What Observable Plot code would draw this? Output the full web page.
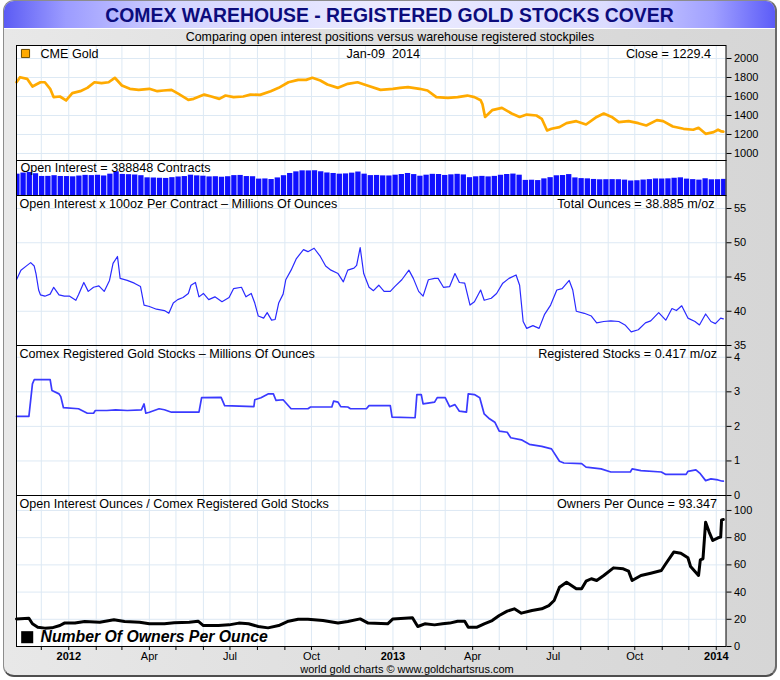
<!DOCTYPE html>
<html><head><meta charset="utf-8">
<script src="https://cdn.jsdelivr.net/npm/d3@7"></script>
<script src="https://cdn.jsdelivr.net/npm/@observablehq/plot@0.6"></script>
<style>
body{margin:0;background:#fff;font-family:"Liberation Sans",Arial,sans-serif}
#wrap{position:relative;width:780px;height:680px;overflow:hidden}
#frame{position:absolute;left:3px;top:0;width:774px;height:677px;box-sizing:border-box;border-radius:11px;
 background:linear-gradient(to right,#e8e8e8,#dcdcdc 60%,#d6d6d6);border:1px solid #8c8c8c;border-bottom:2px solid #4e4e4e;border-right:2px solid #6a6a6a;overflow:hidden}
#title{position:absolute;left:0;top:0;right:0;height:27px;border-bottom:1px solid #fff;
 background:linear-gradient(to right,#5c5cf4 0%,#9c9cff 8%,#d4d4ff 22%,#ececff 50%,#dcdcff 78%,#a0a0ff 92%,#5c5cf8 100%);
 color:#0c0c7c;font-weight:bold;font-size:19.4px;line-height:29px;text-align:center}
#sub{position:absolute;left:0;width:780px;top:30px;line-height:14px;font-size:12.4px;text-align:center;color:#000}
#foot{position:absolute;left:0;width:814px;top:662px;line-height:14px;font-size:11px;text-align:center;color:#000}
.panel{position:absolute;left:0}
</style></head>
<body>
<div id="wrap">
 <div id="frame"><div id="title">COMEX WAREHOUSE - REGISTERED GOLD STOCKS COVER</div></div>
 <div id="sub">Comparing open interest positions versus warehouse registered stockpiles</div>
 <div id="foot">world gold charts © www.goldchartsrus.com</div>
</div>
<script>
// ---------- data ----------
const goldSeries = [
["2011-11-03",1750],["2011-11-07",1803],["2011-11-15",1786],["2011-11-21",1705],["2011-11-30",1750],["2011-12-05",1750],["2011-12-11",1681],["2011-12-15",1593],["2011-12-22",1600],["2011-12-29",1558],
["2012-01-05",1635],["2012-01-14",1656],["2012-01-22",1691],["2012-01-30",1750],["2012-02-07",1740],["2012-02-15",1750],["2012-02-22",1797],["2012-03-01",1716],["2012-03-10",1681],["2012-03-20",1670],
["2012-04-01",1681],["2012-04-10",1656],["2012-04-17",1663],["2012-04-26",1670],["2012-05-04",1628],["2012-05-15",1565],["2012-05-21",1575],["2012-06-02",1620],["2012-06-10",1600],["2012-06-19",1575],
["2012-06-26",1610],["2012-07-05",1593],["2012-07-16",1600],["2012-07-24",1620],["2012-08-04",1617],["2012-08-16",1656],["2012-08-25",1691],["2012-09-05",1750],["2012-09-16",1775],["2012-09-25",1775],
["2012-10-02",1797],["2012-10-11",1768],["2012-10-19",1726],["2012-10-31",1691],["2012-11-11",1733],["2012-11-22",1750],["2012-12-03",1716],["2012-12-18",1670],["2013-01-01",1681],["2013-01-09",1691],
["2013-01-18",1698],["2013-01-31",1681],["2013-02-09",1663],["2013-02-19",1593],["2013-03-04",1586],["2013-03-15",1593],["2013-03-26",1610],["2013-04-03",1593],["2013-04-10",1560],["2013-04-12",1520],
["2013-04-15",1385],["2013-04-23",1456],["2013-05-04",1480],["2013-05-15",1421],["2013-05-24",1385],["2013-06-01",1410],["2013-06-12",1400],["2013-06-18",1365],["2013-06-24",1242],["2013-06-29",1260],
["2013-07-08",1277],["2013-07-16",1319],["2013-07-27",1340],["2013-08-07",1305],["2013-08-19",1385],["2013-08-27",1421],["2013-09-05",1385],["2013-09-13",1330],["2013-09-24",1340],["2013-10-05",1319],
["2013-10-14",1295],["2013-10-26",1351],["2013-11-02",1340],["2013-11-13",1284],["2013-11-25",1260],["2013-12-06",1250],["2013-12-12",1270],["2013-12-20",1207],["2013-12-29",1225],["2014-01-03",1250],
["2014-01-07",1232],["2014-01-09",1229.4]];

// open interest, thousands of contracts, one bar per week starting at barStart
const barStart = "2011-11-04";
const barValues = [450,463,470,455,423,424,432,423,422, 419,428,436,433, 437,429,450,478, 447,444,440,432,407,
 405,402,400,409, 417,422,438,430, 426,418,420,414,420, 433,435,422,420, 392,394,387,406,432, 458,477,489,488,
 490,478,464,458, 450,453,462,475,450, 433,435,430,429, 438,446,458,445, 426,438,448,446, 435,442,448,441,409,
 419,424,418,424, 437,446,451,438,377, 379,375,395,409, 431,434,445,406, 398,395,388,384,385, 386,385,380,370,
 373,381,386,394, 393,395,402,407,392, 386,380,396,384, 385,389];

const oiSeries = [
["2011-11-03",44.6],["2011-11-08",46.0],["2011-11-15",46.7],["2011-11-19",47.1],["2011-11-23",46.6],["2011-11-25",45.5],["2011-11-28",43.1],["2011-11-30",42.4],["2011-12-05",42.2],["2011-12-11",42.5],
["2011-12-15",43.5],["2011-12-21",42.4],["2011-12-27",42.2],["2012-01-02",42.2],["2012-01-09",41.6],["2012-01-12",42.4],["2012-01-18",44.2],["2012-01-23",42.9],["2012-01-29",43.5],["2012-02-04",43.7],
["2012-02-10",42.9],["2012-02-16",44.5],["2012-02-20",47.0],["2012-02-25",48.0],["2012-02-28",44.8],["2012-03-07",44.5],["2012-03-15",44.1],["2012-03-22",43.6],["2012-03-26",40.9],["2012-04-01",40.7],
["2012-04-09",40.3],["2012-04-18",40.1],["2012-04-23",39.7],["2012-04-28",41.2],["2012-05-03",41.7],["2012-05-09",42.0],["2012-05-15",42.6],["2012-05-18",43.8],["2012-05-23",44.2],["2012-05-27",42.1],
["2012-06-01",42.6],["2012-06-07",41.7],["2012-06-14",42.1],["2012-06-22",41.4],["2012-06-30",42.0],["2012-07-05",43.3],["2012-07-14",43.5],["2012-07-19",42.1],["2012-07-25",42.6],["2012-07-29",41.2],
["2012-08-02",39.3],["2012-08-08",39.0],["2012-08-12",39.8],["2012-08-17",38.7],["2012-08-21",38.8],["2012-08-25",41.2],["2012-08-30",42.5],["2012-09-02",44.6],["2012-09-08",46.0],["2012-09-14",47.7],
["2012-09-22",49.0],["2012-09-27",48.7],["2012-10-04",49.2],["2012-10-11",48.0],["2012-10-17",46.6],["2012-10-23",46.0],["2012-10-31",45.5],["2012-11-06",44.3],["2012-11-11",46.0],["2012-11-18",46.3],
["2012-11-21",46.7],["2012-11-25",49.3],["2012-11-29",45.5],["2012-12-05",43.5],["2012-12-10",43.0],["2012-12-16",43.8],["2012-12-22",42.9],["2012-12-29",42.9],["2013-01-03",43.6],["2013-01-11",44.6],
["2013-01-19",46.0],["2013-01-24",44.8],["2013-01-30",42.9],["2013-02-04",42.2],["2013-02-10",44.6],["2013-02-17",44.8],["2013-02-21",44.8],["2013-02-27",43.5],["2013-03-06",43.6],["2013-03-12",45.5],
["2013-03-17",44.2],["2013-03-23",44.1],["2013-03-29",40.9],["2013-04-03",41.4],["2013-04-10",43.1],["2013-04-14",41.6],["2013-04-22",41.9],["2013-04-28",42.6],["2013-05-05",44.1],["2013-05-12",44.8],
["2013-05-20",45.3],["2013-05-24",43.8],["2013-05-28",38.5],["2013-06-01",37.5],["2013-06-08",37.9],["2013-06-15",37.5],["2013-06-21",39.5],["2013-06-28",40.9],["2013-07-05",43.1],["2013-07-11",43.3],
["2013-07-19",44.5],["2013-07-23",43.1],["2013-07-27",40.0],["2013-08-05",39.7],["2013-08-13",39.3],["2013-08-19",38.3],["2013-08-27",38.5],["2013-09-04",38.6],["2013-09-13",38.5],["2013-09-20",38.0],
["2013-09-27",37.0],["2013-10-05",37.3],["2013-10-13",38.3],["2013-10-19",38.6],["2013-10-28",39.8],["2013-11-05",38.7],["2013-11-12",40.4],["2013-11-17",40.1],["2013-11-23",40.8],["2013-11-30",39.0],
["2013-12-08",38.5],["2013-12-13",38.0],["2013-12-20",39.6],["2013-12-26",38.5],["2013-12-31",38.2],["2014-01-06",39.0],["2014-01-09",38.885]];

const regSeries = [
["2011-11-03",2.29],["2011-11-17",2.29],["2011-11-21",3.23],["2011-11-23",3.35],["2011-12-11",3.35],["2011-12-13",3.04],["2011-12-21",2.94],["2011-12-23",2.86],["2011-12-26",2.54],["2012-01-12",2.51],
["2012-01-22",2.38],["2012-01-29",2.38],["2012-01-31",2.46],["2012-02-13",2.46],["2012-02-23",2.48],["2012-03-07",2.46],["2012-03-23",2.48],["2012-03-26",2.65],["2012-03-28",2.38],["2012-04-01",2.41],
["2012-04-12",2.51],["2012-04-18",2.48],["2012-04-26",2.41],["2012-05-27",2.41],["2012-05-30",2.83],["2012-06-21",2.84],["2012-06-25",2.60],["2012-07-28",2.57],["2012-07-29",2.77],["2012-08-05",2.83],
["2012-08-13",2.94],["2012-08-19",2.94],["2012-08-22",2.75],["2012-08-30",2.77],["2012-09-08",2.51],["2012-09-27",2.51],["2012-09-30",2.56],["2012-10-24",2.56],["2012-10-26",2.73],["2012-10-31",2.70],
["2012-11-03",2.57],["2012-11-11",2.56],["2012-11-14",2.51],["2012-12-02",2.51],["2012-12-05",2.60],["2012-12-29",2.60],["2012-12-31",2.27],["2013-01-26",2.25],["2013-01-28",2.92],["2013-02-02",2.92],
["2013-02-04",2.65],["2013-02-17",2.70],["2013-02-20",2.83],["2013-03-01",2.83],["2013-03-06",2.57],["2013-03-12",2.63],["2013-03-17",2.44],["2013-03-25",2.41],["2013-03-27",2.94],["2013-04-03",2.92],
["2013-04-09",2.83],["2013-04-14",2.36],["2013-04-20",2.22],["2013-04-26",2.12],["2013-05-01",1.86],["2013-05-10",1.83],["2013-05-14",1.67],["2013-05-26",1.61],["2013-06-04",1.48],["2013-06-18",1.42],
["2013-06-29",1.35],["2013-07-08",0.99],["2013-07-13",0.94],["2013-08-02",0.92],["2013-08-07",0.82],["2013-08-24",0.77],["2013-09-04",0.68],["2013-09-26",0.68],["2013-09-28",0.77],["2013-10-08",0.72],
["2013-10-31",0.68],["2013-11-05",0.61],["2013-11-28",0.61],["2013-11-30",0.70],["2013-12-09",0.74],["2013-12-14",0.63],["2013-12-20",0.43],["2013-12-26",0.48],["2014-01-03",0.45],["2014-01-07",0.42],
["2014-01-09",0.417]];

const ratioSeries = [
["2011-11-03",20.3],["2011-11-17",20.8],["2011-11-21",16.7],["2011-11-27",14.2],["2011-12-05",13.5],["2011-12-13",13.7],["2011-12-22",15.4],["2011-12-27",17.2],["2012-01-08",17.2],["2012-01-19",18.4],
["2012-02-05",17.9],["2012-02-21",19.6],["2012-03-04",18.4],["2012-03-21",17.9],["2012-04-01",16.7],["2012-04-18",16.7],["2012-04-29",17.4],["2012-05-16",17.9],["2012-05-26",18.6],["2012-06-01",15.4],
["2012-06-18",15.4],["2012-06-30",15.9],["2012-07-11",17.2],["2012-07-22",16.7],["2012-08-02",14.7],["2012-08-13",13.7],["2012-08-25",15.4],["2012-09-05",18.6],["2012-09-16",20.1],["2012-09-27",20.1],
["2012-10-14",19.1],["2012-10-31",17.2],["2012-11-11",18.4],["2012-11-25",20.3],["2012-12-04",17.2],["2012-12-26",16.7],["2013-01-01",20.3],["2013-01-23",21.1],["2013-01-29",14.7],["2013-02-06",16.7],
["2013-02-17",15.9],["2013-02-26",16.7],["2013-03-06",17.2],["2013-03-15",18.6],["2013-03-23",18.6],["2013-03-27",14.2],["2013-04-06",14.2],["2013-04-14",16.7],["2013-04-23",19.1],["2013-05-01",22.8],
["2013-05-10",26.0],["2013-05-18",27.7],["2013-05-26",24.5],["2013-06-07",26.5],["2013-06-18",27.7],["2013-06-26",30.1],["2013-07-02",33.8],["2013-07-08",43.6],["2013-07-16",47.3],["2013-07-27",42.4],
["2013-08-02",42.4],["2013-08-07",48.0],["2013-08-13",49.8],["2013-08-19",48.5],["2013-08-27",52.2],["2013-09-07",57.8],["2013-09-18",57.1],["2013-09-24",55.4],["2013-09-28",48.5],["2013-10-08",52.2],
["2013-10-19",53.9],["2013-10-31",55.9],["2013-11-05",60.8],["2013-11-14",69.4],["2013-11-22",68.6],["2013-11-30",65.2],["2013-12-03",58.8],["2013-12-12",52.2],["2013-12-14",63.7],["2013-12-17",64.5],
["2013-12-20",91.4],["2013-12-24",84.1],["2013-12-28",77.9],["2014-01-03",79.9],["2014-01-06",80.4],["2014-01-07",93.1],["2014-01-09",93.347]];

const goldTicks = [1000,1200,1400,1600,1800,2000];
const oiTicks = [35,40,45,50,55];
const regTicks = [0,1,2,3,4];
const ratioTicks = [0,20,40,60,80,100];
const monthNames = ["2012","Feb","Mar","Apr","May","Jun","Jul","Aug","Sep","Oct","Nov","Dec"];
const labelledMonths = [0,3,6,9];

// ---------- build ----------
const X_DOMAIN = [new Date("2011-11-03"), new Date("2014-01-12")];
const monthTicks = d3.utcMonth.range(new Date("2011-12-01"), new Date("2014-01-02"));
const toRows = s => s.map(([d, v]) => ({date: new Date(d), value: v}));
const gold = toRows(goldSeries), oi = toRows(oiSeries), reg = toRows(regSeries), ratio = toRows(ratioSeries);
const bars = barValues.map((v, i) => ({date: d3.utcDay.offset(new Date(barStart), 7 * i), value: v}));

const FONT = '"Liberation Sans", Arial, sans-serif';
const GRID = "#dde9f4";
const TXT = 12.6;
const common = {width: 780, marginLeft: 16, marginRight: 54.5, marginTop: 0, marginBottom: 0,
  style: {fontFamily: FONT, fontSize: "11px", color: "black", background: "none", overflow: "visible"}};
const yAxis = (domain, ticks) => ({domain, axis: "right", ticks, tickSize: 5, tickPadding: 3, label: null, tickFormat: d3.format("d")});
const grid = yt => [Plot.ruleX(monthTicks, {stroke: GRID}), ...(yt ? [Plot.ruleY(yt, {stroke: GRID})] : [])];
const label = (t, anchor, dx, dy, extra = {}) => Plot.text([t], {frameAnchor: anchor, dx, dy, lineAnchor: "middle",
  textAnchor: anchor.endsWith("left") ? "start" : anchor.endsWith("right") ? "end" : "middle", fontSize: TXT, fill: "black", ...extra});

const panels = [];

panels.push([45, Plot.plot({...common, height: 115,
  x: {domain: X_DOMAIN, axis: null},
  y: yAxis([926, 2137], goldTicks),
  marks: [
    Plot.frame({fill: "white"}), ...grid(goldTicks),
    Plot.lineY(gold, {x: "date", y: "value", stroke: "#ffaa00", strokeWidth: 2.7}),
    Plot.dot([0], {frameAnchor: "top-left", dx: 9, dy: 8, symbol: "square", r: 4.6, fill: "#ffaa00", stroke: "#6b4c00", strokeWidth: 1}),
    label("CME Gold", "top-left", 24, 8),
    label("Jan-09\u00a0\u00a02014", "top", 12, 8),
    label("Close = 1229.4", "top-right", -15, 8),
    Plot.frame({stroke: "black"})
  ]})]);

panels.push([160, Plot.plot({...common, height: 35,
  x: {domain: X_DOMAIN, axis: null},
  y: {domain: [200, 610], axis: null},
  marks: [
    Plot.frame({fill: "white"}), ...grid(null),
    Plot.rect(bars, {x1: d => d3.utcDay.offset(d.date, -3), x2: d => d3.utcDay.offset(d.date, 3), y1: () => 200, y2: "value", fill: "#1010ff", clip: true}),
    label("Open Interest = 388848 Contracts", "top-left", 4, 7),
    Plot.frame({stroke: "black"})
  ]})]);

panels.push([195, Plot.plot({...common, height: 150,
  x: {domain: X_DOMAIN, axis: null},
  y: yAxis([35, 56.9], oiTicks),
  marks: [
    Plot.frame({fill: "white"}), ...grid(oiTicks),
    Plot.lineY(oi, {x: "date", y: "value", stroke: "#2a2aff", strokeWidth: 1.2}),
    label("Open Interest x 100oz Per Contract \u2013 Millions Of Ounces", "top-left", 3, 8),
    label("Total Ounces = 38.885 m/oz", "top-right", -11.5, 8),
    Plot.frame({stroke: "black"})
  ]})]);

panels.push([345, Plot.plot({...common, height: 150,
  x: {domain: X_DOMAIN, axis: null},
  y: yAxis([0, 4.34], regTicks),
  marks: [
    Plot.frame({fill: "white"}), ...grid(regTicks),
    Plot.lineY(reg, {x: "date", y: "value", stroke: "#3a3aff", strokeWidth: 1.7}),
    label("Comex Registered Gold Stocks \u2013 Millions Of Ounces", "top-left", 3, 8),
    label("Registered Stocks = 0.417 m/oz", "top-right", -9, 8),
    Plot.frame({stroke: "black"})
  ]})]);

panels.push([495, Plot.plot({...common, height: 181, marginBottom: 30,
  x: {domain: X_DOMAIN, ticks: monthTicks, tickSize: 4, tickPadding: 2, label: null,
      tickFormat: d => labelledMonths.includes(d.getUTCMonth()) ? (d.getUTCMonth() === 0 ? String(d.getUTCFullYear()) : monthNames[d.getUTCMonth()]) : ""},
  y: yAxis([0, 111], ratioTicks),
  marks: [
    Plot.frame({fill: "white"}), ...grid(ratioTicks),
    Plot.lineY(ratio, {x: "date", y: "value", stroke: "black", strokeWidth: 3}),
    label("Open Interest Ounces / Comex Registered Gold Stocks", "top-left", 3, 8),
    label("Owners Per Ounce = 93.347", "top-right", -9, 8),
    Plot.dot([0], {frameAnchor: "bottom-left", dx: 10.7, dy: -9.3, symbol: "square", r: 6.8, fill: "black"}),
    label("Number Of Owners Per Ounce", "bottom-left", 24, -9.5, {fontSize: 15.8, fontWeight: "bold", fontStyle: "italic"}),
    Plot.frame({stroke: "black"})
  ]})]);

const wrap = document.getElementById("wrap");
for (const [top, svg] of panels) {
  const div = document.createElement("div");
  div.className = "panel";
  div.style.top = top + "px";
  div.appendChild(svg);
  wrap.appendChild(div);
}
// bold year labels on the time axis
const last = panels[panels.length - 1][1];
last.querySelectorAll("text").forEach(t => { if (/^20\d\d$/.test(t.textContent)) t.setAttribute("font-weight", "bold"); });
</script>
</body></html>
